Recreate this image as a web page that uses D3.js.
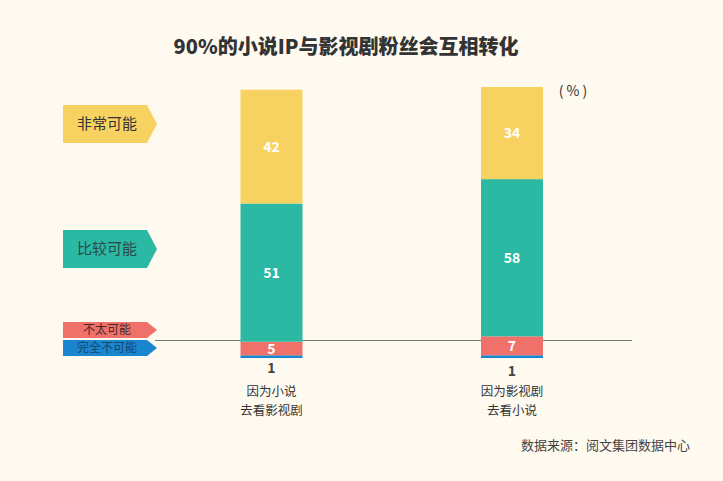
<!DOCTYPE html>
<html>
<head>
<meta charset="utf-8">
<script src="https://cdn.jsdelivr.net/npm/d3@7"></script>
<style>
  body { margin: 0; background: #fefaf0; }
  svg { display: block; font-family: "Noto Sans CJK SC", "Noto Sans", sans-serif; }
</style>
</head>
<body>
<div id="chart"></div>
<script>
// data
const categories = ["因为小说\n去看影视剧", "因为影视剧\n去看小说"];
const levels = ["完全不可能", "不太可能", "比较可能", "非常可能"];
const notAtAll = [1, 1];
const unlikely = [5, 7];
const likely = [51, 58];
const veryLikely = [42, 34];
const colors = ["#1a86d0", "#f0706a", "#2bb9a4", "#f8d260"];

const series = [notAtAll, unlikely, likely, veryLikely];

const width = 723, height = 481;

const svg = d3.select("#chart").append("svg")
    .attr("width", width)
    .attr("height", height);

svg.append("rect").attr("width", width).attr("height", height).attr("fill", "#fefaf0");

// title
svg.append("text")
    .attr("x", 346).attr("y", 54)
    .attr("text-anchor", "middle")
    .attr("font-size", 20).attr("font-weight", 900)
    .attr("fill", "#333")
    .text("90%的小说IP与影视剧粉丝会互相转化");

// scales
const baseline = 358;
const x = d3.scalePoint().domain(categories).range([271.5, 512]);
const y = d3.scaleLinear().domain([0, 100]).range([baseline, baseline - 271]);
const barW = 62;

// stacked rows
const rows = categories.map((c, i) => {
    const r = {cat: c};
    levels.forEach((l, j) => r[l] = series[j][i]);
    return r;
});
const stacked = d3.stack().keys(levels)(rows);

// reference line
svg.append("line")
    .attr("x1", 155).attr("x2", 632)
    .attr("y1", 340.5).attr("y2", 340.5)
    .attr("stroke", "#777").attr("stroke-width", 1);

const layers = svg.selectAll(".layer")
    .data(stacked)
    .enter().append("g")
    .attr("class", "layer")
    .attr("fill", (d, i) => colors[i]);

layers.selectAll("rect")
    .data(d => d)
    .enter().append("rect")
    .attr("x", d => x(d.data.cat) - barW / 2)
    .attr("width", barW)
    .attr("y", d => y(d[1]))
    .attr("height", d => y(d[0]) - y(d[1]));

// value labels inside bars (not for the thin bottom layer)
layers.filter((d, i) => i > 0).selectAll("text")
    .data(d => d)
    .enter().append("text")
    .attr("x", d => x(d.data.cat))
    .attr("y", d => (y(d[0]) + y(d[1])) / 2 + 5)
    .attr("text-anchor", "middle")
    .attr("font-size", 14).attr("font-weight", "bold")
    .attr("fill", "#fff")
    .text(d => d[1] - d[0]);

// bottom layer values below bars
svg.selectAll(".low")
    .data(rows)
    .enter().append("text")
    .attr("class", "low")
    .attr("x", d => x(d.cat))
    .attr("y", (d, i) => y(0) + 15 + i * 3)
    .attr("text-anchor", "middle")
    .attr("font-size", 14).attr("font-weight", "bold")
    .attr("fill", "#444")
    .text(d => d[levels[0]]);

// category labels, one text per line
categories.forEach(c => {
    c.split("\n").forEach((line, i) => {
        svg.append("text")
            .attr("class", "cat")
            .attr("x", x(c))
            .attr("y", 396 + i * 18.5)
            .attr("text-anchor", "middle")
            .attr("font-size", 12.5)
            .attr("fill", "#333")
            .text(line);
    });
});

// legend tags
const tagBox = [
    {top: 340, h: 16, fs: 12, tc: "#17456b"},
    {top: 322, h: 16, fs: 12, tc: "#4a2a28"},
    {top: 230, h: 38, fs: 15, tc: "#2b4a45"},
    {top: 105, h: 38, fs: 15, tc: "#333"}
];
const tagX = 63, tagW = 84, tagTip = 10;

const tags = svg.selectAll(".tag")
    .data(levels)
    .enter().append("g")
    .attr("class", "tag");

tags.append("path")
    .attr("d", (d, i) => {
        const b = tagBox[i];
        return `M${tagX},${b.top}H${tagX + tagW}L${tagX + tagW + tagTip},${b.top + b.h / 2}L${tagX + tagW},${b.top + b.h}H${tagX}Z`;
    })
    .attr("fill", (d, i) => colors[i]);

tags.append("text")
    .attr("x", tagX + 44)
    .attr("y", (d, i) => tagBox[i].top + tagBox[i].h / 2 + tagBox[i].fs * 0.36)
    .attr("text-anchor", "middle")
    .attr("font-size", (d, i) => tagBox[i].fs)
    .attr("fill", (d, i) => tagBox[i].tc)
    .text(d => d);

// unit
svg.append("text")
    .attr("x", 573).attr("y", 96)
    .attr("text-anchor", "middle")
    .attr("font-size", 14).attr("fill", "#333")
    .text("( % )");

// source
svg.append("text")
    .attr("x", 690).attr("y", 450)
    .attr("text-anchor", "end")
    .attr("font-size", 13).attr("fill", "#444")
    .text("数据来源：阅文集团数据中心");
</script>
</body>
</html>
